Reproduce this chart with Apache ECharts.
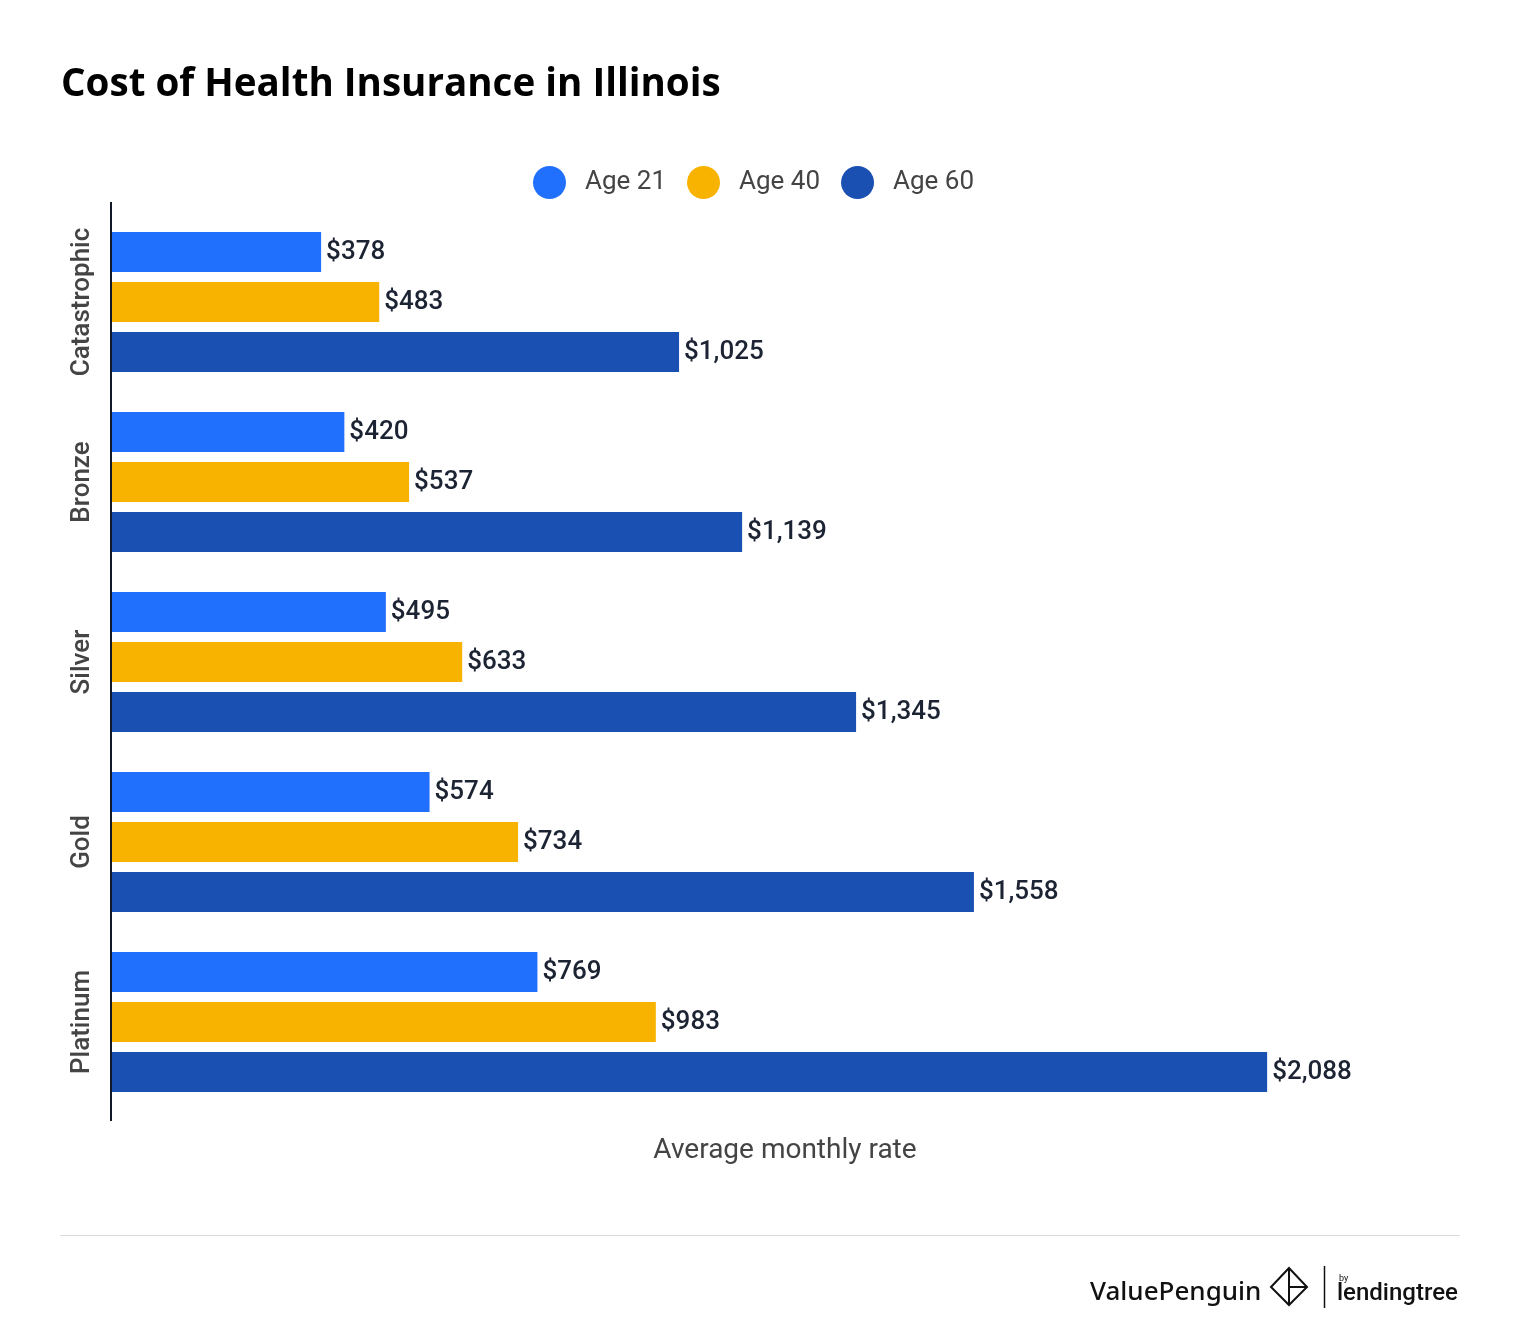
<!DOCTYPE html>
<html><head><meta charset="utf-8">
<script src="https://cdn.jsdelivr.net/npm/echarts@6/dist/echarts.min.js"></script>
<style>html,body{margin:0;padding:0;background:#fff}#c{width:1520px;height:1344px}</style>
</head><body><div id="c"></div>
<script>
const categories = ['Catastrophic', 'Bronze', 'Silver', 'Gold', 'Platinum'];
const seriesNames = ['Age 21', 'Age 40', 'Age 60'];
const age21 = [378, 420, 495, 574, 769];
const age40 = [483, 537, 633, 734, 983];
const age60 = [1025, 1139, 1345, 1558, 2088];
const colors = ['#2170fd', '#f8b301', '#1b50b3'];

const chart = echarts.init(document.getElementById('c'), null, {renderer: 'canvas'});
const font = 'Roboto, "Noto Sans", sans-serif';
const mk = (name, data, color) => ({
  name, type: 'bar', data, barWidth: 40, barGap: '25%',
  itemStyle: {color},
  label: {show: true, position: 'right', distance: 5, formatter: p => '$' + p.value.toLocaleString('en-US'),
    color: '#1c2333', fontSize: 26, fontFamily: font, fontWeight: 500},
  emphasis: {disabled: true}
});
chart.setOption({
  animation: false,
  title: {text: 'Cost of Health Insurance in Illinois', left: 56, top: 61,
    textStyle: {fontFamily: '"Open Sans", sans-serif', fontWeight: 'bold', fontSize: 38.6, color: '#000'}},
  legend: {top: 161, left: 528, itemWidth: 33, itemHeight: 33, icon: 'circle', itemGap: 21,
    textStyle: {fontFamily: font, fontSize: 26, color: '#444', padding: [0, 0, 0, 14]}},
  grid: {left: 112, right: 62, top: 212, height: 900},
  xAxis: {type: 'value', min: 0, max: 2433, show: true, splitLine: {show: false}, axisLine: {show: false},
    axisTick: {show: false}, axisLabel: {show: false},
    name: 'Average monthly rate', nameLocation: 'middle', nameGap: 39,
    nameTextStyle: {fontFamily: font, fontSize: 28, color: '#444', verticalAlign: 'middle', lineHeight: 28}},
  yAxis: {type: 'category', data: categories, inverse: true, axisLine: {show: false}, axisTick: {show: false},
    axisLabel: {interval: 0, rotate: 90, margin: 17, fontFamily: font, fontSize: 26, fontWeight: 500, color: '#444'}},
  series: [mk(seriesNames[0], age21, colors[0]), mk(seriesNames[1], age40, colors[1]), mk(seriesNames[2], age60, colors[2])],
  graphic: [
    {type: 'line', shape: {x1: 111, y1: 202, x2: 111, y2: 1121}, style: {stroke: '#111827', lineWidth: 2}},
    {type: 'line', shape: {x1: 60, y1: 1235.5, x2: 1460, y2: 1235.5}, style: {stroke: '#dcdcdc', lineWidth: 1}},
    {type: 'text', left: 1090, top: 1280, style: {text: 'ValuePenguin', fontFamily: '"Noto Sans", sans-serif', fontSize: 26, fontWeight: 500, fill: '#111'}},
    {type: 'polygon', shape: {points: [[1271,1287],[1289,1268],[1307,1287],[1289,1305]]}, style: {fill: 'none', stroke: '#111', lineWidth: 2}},
    {type: 'line', shape: {x1: 1289, y1: 1268, x2: 1289, y2: 1305}, style: {stroke: '#111', lineWidth: 2}},
    {type: 'line', shape: {x1: 1289, y1: 1287, x2: 1307, y2: 1287}, style: {stroke: '#111', lineWidth: 2}},
    {type: 'line', shape: {x1: 1324.5, y1: 1266, x2: 1324.5, y2: 1308}, style: {stroke: '#111', lineWidth: 1.5}},
    {type: 'text', left: 1339, top: 1274, style: {text: 'by', fontFamily: font, fontSize: 9, fill: '#111'}},
    {type: 'text', left: 1337, top: 1282, style: {text: 'lendingtree', fontFamily: font, fontSize: 24, fontWeight: 500, fill: '#111'}}
  ]
});
</script></body></html>
